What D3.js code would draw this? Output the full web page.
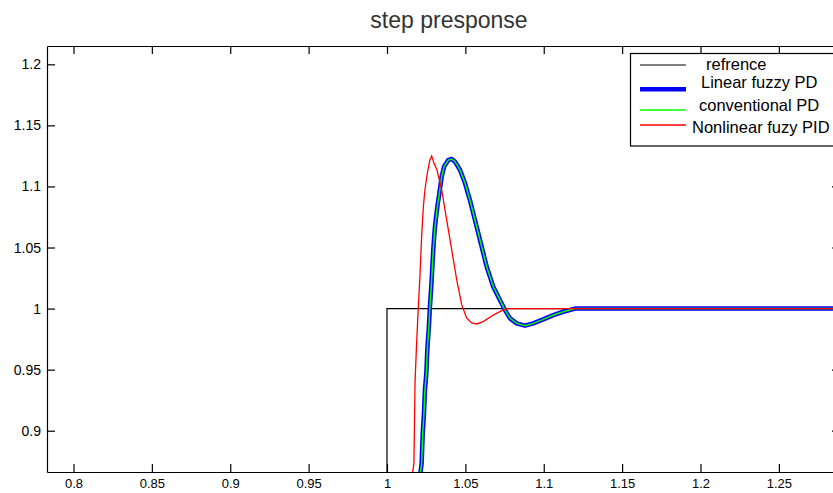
<!DOCTYPE html>
<html><head><meta charset="utf-8">
<script src="https://cdn.jsdelivr.net/npm/d3@7/dist/d3.min.js"></script>
<style>body{margin:0;background:#fff;overflow:hidden}svg{display:block}</style>
</head><body>
<script>
// ---- data ----
const xTicks = [0.8, 0.85, 0.9, 0.95, 1, 1.05, 1.1, 1.15, 1.2, 1.25];
const xTickLabels = ["0.8", "0.85", "0.9", "0.95", "1", "1.05", "1.1", "1.15", "1.2", "1.25"];
const yTicks = [0.9, 0.95, 1, 1.05, 1.1, 1.15, 1.2];
const yTickLabels = ["0.9", "0.95", "1", "1.05", "1.1", "1.15", "1.2"];
const seriesNames = ["refrence", "Linear fuzzy PD", "conventional PD", "Nonlinear fuzy PID"];

const refT = [0.78, 1.0, 1.0, 1.29];
const refV = [0, 0, 1, 1];

const linT = [1.0, 1.012, 1.0214, 1.0221, 1.0228, 1.0236, 1.0242, 1.0251, 1.0257, 1.0266, 1.0274, 1.0285, 1.0295, 1.0306, 1.0321, 1.0334, 1.0349, 1.0364, 1.0391, 1.0413, 1.0434, 1.0466, 1.0498, 1.0529, 1.0572, 1.0604, 1.0636, 1.0678, 1.0721, 1.0753, 1.0785, 1.0827, 1.0880, 1.0933, 1.0997, 1.1061, 1.1125, 1.1188, 1.12, 1.29];
const linV = [0, 0.55, 0.8662, 0.8733, 0.8979, 0.9143, 0.9333, 0.9470, 0.9661, 0.9825, 1.0015, 1.0234, 1.048, 1.067, 1.0834, 1.0944, 1.108, 1.1162, 1.1216, 1.1225, 1.1203, 1.1135, 1.1026, 1.0889, 1.067, 1.0507, 1.0343, 1.0179, 1.0069, 0.9988, 0.9920, 0.9879, 0.9860, 0.9879, 0.9912, 0.9947, 0.9974, 0.9996, 1.0, 1.0];

const convT = [1.0, 1.012, 1.0214, 1.0221, 1.0228, 1.0236, 1.0242, 1.0251, 1.0257, 1.0266, 1.0274, 1.0285, 1.0295, 1.0306, 1.0321, 1.0334, 1.0349, 1.0364, 1.0391, 1.0413, 1.0434, 1.0466, 1.0498, 1.0529, 1.0572, 1.0604, 1.0636, 1.0678, 1.0721, 1.0753, 1.0785, 1.0827, 1.0880, 1.0933, 1.0997, 1.1061, 1.1125, 1.1188, 1.12, 1.29];
const convV = [0, 0.55, 0.8662, 0.8733, 0.8979, 0.9143, 0.9333, 0.9470, 0.9661, 0.9825, 1.0015, 1.0234, 1.048, 1.067, 1.0834, 1.0944, 1.108, 1.1162, 1.1216, 1.1225, 1.1203, 1.1135, 1.1026, 1.0889, 1.067, 1.0507, 1.0343, 1.0179, 1.0069, 0.9988, 0.9920, 0.9879, 0.9860, 0.9879, 0.9912, 0.9947, 0.9974, 0.9996, 1.0, 1.0];

const nlT = [1.0, 1.01, 1.0164, 1.0172, 1.0179, 1.0188, 1.0198, 1.0211, 1.0221, 1.0232, 1.0242, 1.0257, 1.0274, 1.0285, 1.0300, 1.0319, 1.0349, 1.0381, 1.0413, 1.0445, 1.0477, 1.0508, 1.0540, 1.0572, 1.0614, 1.0678, 1.0732, 1.0766, 1.29];
const nlV = [0, 0.6, 0.8662, 0.8736, 0.940, 0.9685, 0.9963, 1.0289, 1.0589, 1.0834, 1.0971, 1.1108, 1.1217, 1.1249, 1.1189, 1.1135, 1.0971, 1.0725, 1.048, 1.0234, 1.003, 0.9923, 0.9882, 0.9874, 0.9893, 0.9947, 0.9983, 1.0, 1.0];

// ---- layout ----
const W = 833, H = 493;
const L = 47, R = 840, T = 46, B = 472;
const svg = d3.select("body").append("svg").attr("width", W).attr("height", H);

const x = d3.scaleLinear().domain([0.7831, 1.2890]).range([L, R]);
const y = d3.scaleLinear().domain([0.8662, 1.2150]).range([B, T]);

svg.append("defs").append("clipPath").attr("id", "clip")
  .append("rect").attr("x", L).attr("y", T).attr("width", R - L).attr("height", B - T);

const font = "'Liberation Sans', Arial, sans-serif";

// title
svg.append("text").attr("x", 449).attr("y", 28).attr("text-anchor", "middle")
  .style("font-family", font).style("font-size", "23px").style("fill", "#333")
  .text("step presponse");

// axes (ticks inward)
const tl = 8;
const gB = svg.append("g").attr("transform", `translate(0,${B})`)
  .call(d3.axisBottom(x).tickValues(xTicks).tickSizeInner(-tl).tickSizeOuter(0)
    .tickFormat((d, i) => xTickLabels[i]));
const gT = svg.append("g").attr("transform", `translate(0,${T})`)
  .call(d3.axisTop(x).tickValues(xTicks).tickSizeInner(-tl).tickSizeOuter(0).tickFormat(""));
const gL = svg.append("g").attr("transform", `translate(${L},0)`)
  .call(d3.axisLeft(y).tickValues(yTicks).tickSizeInner(-tl).tickSizeOuter(0).tickPadding(6)
    .tickFormat((d, i) => yTickLabels[i]));
const gR = svg.append("g").attr("transform", `translate(${R},0)`)
  .call(d3.axisRight(y).tickValues(yTicks).tickSizeInner(-tl).tickSizeOuter(0).tickFormat(""));
[gB, gT, gL, gR].forEach(g => {
  g.selectAll("path.domain").attr("stroke", "#000").attr("stroke-width", 1.2);
  g.selectAll(".tick line").attr("stroke", "#000").attr("stroke-width", 1.2);
  g.selectAll("text").style("font-family", font).style("font-size", "14px").style("fill", "#000");
});
gB.selectAll("text").attr("y", 16).attr("dy", 0).style("font-size", "13px");

// lines
const line = d3.line().x(d => x(d[0])).y(d => y(d[1]));
const plot = svg.append("g").attr("clip-path", "url(#clip)");
const zip = (a, b) => a.map((v, i) => [v, b[i]]);
plot.append("path").datum(zip(refT, refV)).attr("d", line)
  .attr("fill", "none").attr("stroke", "#000").attr("stroke-width", 1.2);
plot.append("path").datum(zip(linT, linV)).attr("d", line)
  .attr("fill", "none").attr("stroke", "#0000ff").attr("stroke-width", 4.5).attr("stroke-linejoin", "round");
plot.append("path").datum(zip(convT, convV)).attr("d", line)
  .attr("fill", "none").attr("stroke", "#00ff00").attr("stroke-width", 1.5);
plot.append("path").datum(zip(nlT, nlV)).attr("d", line)
  .attr("fill", "none").attr("stroke", "#ff0000").attr("stroke-width", 1.3);

// legend
const lg = svg.append("g");
lg.append("rect").attr("x", 630.5).attr("y", 53.5).attr("width", 220).attr("height", 92.5)
  .attr("fill", "#fff").attr("stroke", "#000").attr("stroke-width", 1.2);
const legColors = ["#000", "#0000ff", "#00ff00", "#ff0000"];
const legWidths = [1.2, 4.5, 1.5, 1.3];
const legLineY = [65, 89.3, 110, 125];
const legTextY = [69.5, 87.5, 110.5, 133.3];
const legTextX = [706, 701, 699, 692];
seriesNames.forEach((name, i) => {
  lg.append("line").attr("x1", 640).attr("x2", 686).attr("y1", legLineY[i]).attr("y2", legLineY[i])
    .attr("stroke", legColors[i]).attr("stroke-width", legWidths[i]);
  lg.append("text").attr("x", legTextX[i]).attr("y", legTextY[i])
    .style("font-family", font).style("font-size", "16.5px").style("fill", "#000").text(name);
});
</script>
</body></html>
